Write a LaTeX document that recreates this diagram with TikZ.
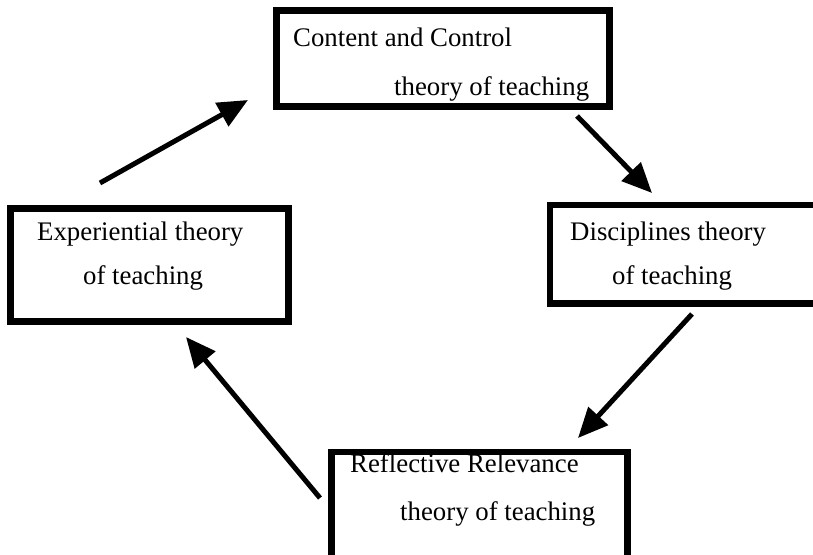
\documentclass[tikz,border=0pt]{standalone}
\usepackage{fontspec}
\setmainfont{Liberation Serif}
\usetikzlibrary{arrows.meta}
\begin{document}
\begin{tikzpicture}[x=1pt,y=-1pt,
  boxstyle/.style={draw=black,line width=6.5pt,rectangle,inner sep=0pt},
  lbl/.style={anchor=base west,inner sep=0pt,font=\fontsize{26.8}{30}\selectfont},
  arr/.style={line width=5pt,-{Triangle[length=30pt,width=26pt]}}]
\clip (0,0) rectangle (813,554);
\fill[white] (0,0) rectangle (813,554);
% boxes
\node[boxstyle,minimum width=333pt,minimum height=96pt] (cc) at (443,58.5) {};
\node[boxstyle,minimum width=280pt,minimum height=98.5pt] (dt) at (690,254.25) {};
\node[boxstyle,minimum width=278pt,minimum height=113pt] (et) at (149.5,265) {};
\node[boxstyle,minimum width=296pt,minimum height=128pt] (rr) at (479.5,516) {};
% texts
\node[lbl] (cc1) at (293,46) {Content and Control};
\node[lbl] (cc2) at (394,95) {theory of teaching};
\node[lbl] (dt1) at (570,240) {Disciplines theory};
\node[lbl] (dt2) at (612,284) {of teaching};
\node[lbl] (et1) at (37,240) {Experiential theory};
\node[lbl] (et2) at (83,284) {of teaching};
\node[lbl] (rr1) at (350,472) {Reflective Relevance};
\node[lbl] (rr2) at (400,520) {theory of teaching};
% arrow end points
\coordinate (a1s) at (100,183);
\coordinate (a1e) at (248,100);
\coordinate (a2s) at (577,116);
\coordinate (a2e) at (652,193);
\coordinate (a3s) at (692,314);
\coordinate (a3e) at (578,438);
\coordinate (a4s) at (320,498);
\coordinate (a4e) at (186,337);
\draw[arr] (a1s) -- (a1e);
\draw[arr] (a2s) -- (a2e);
\draw[arr] (a3s) -- (a3e);
\draw[arr] (a4s) -- (a4e);
\end{tikzpicture}
\end{document}
